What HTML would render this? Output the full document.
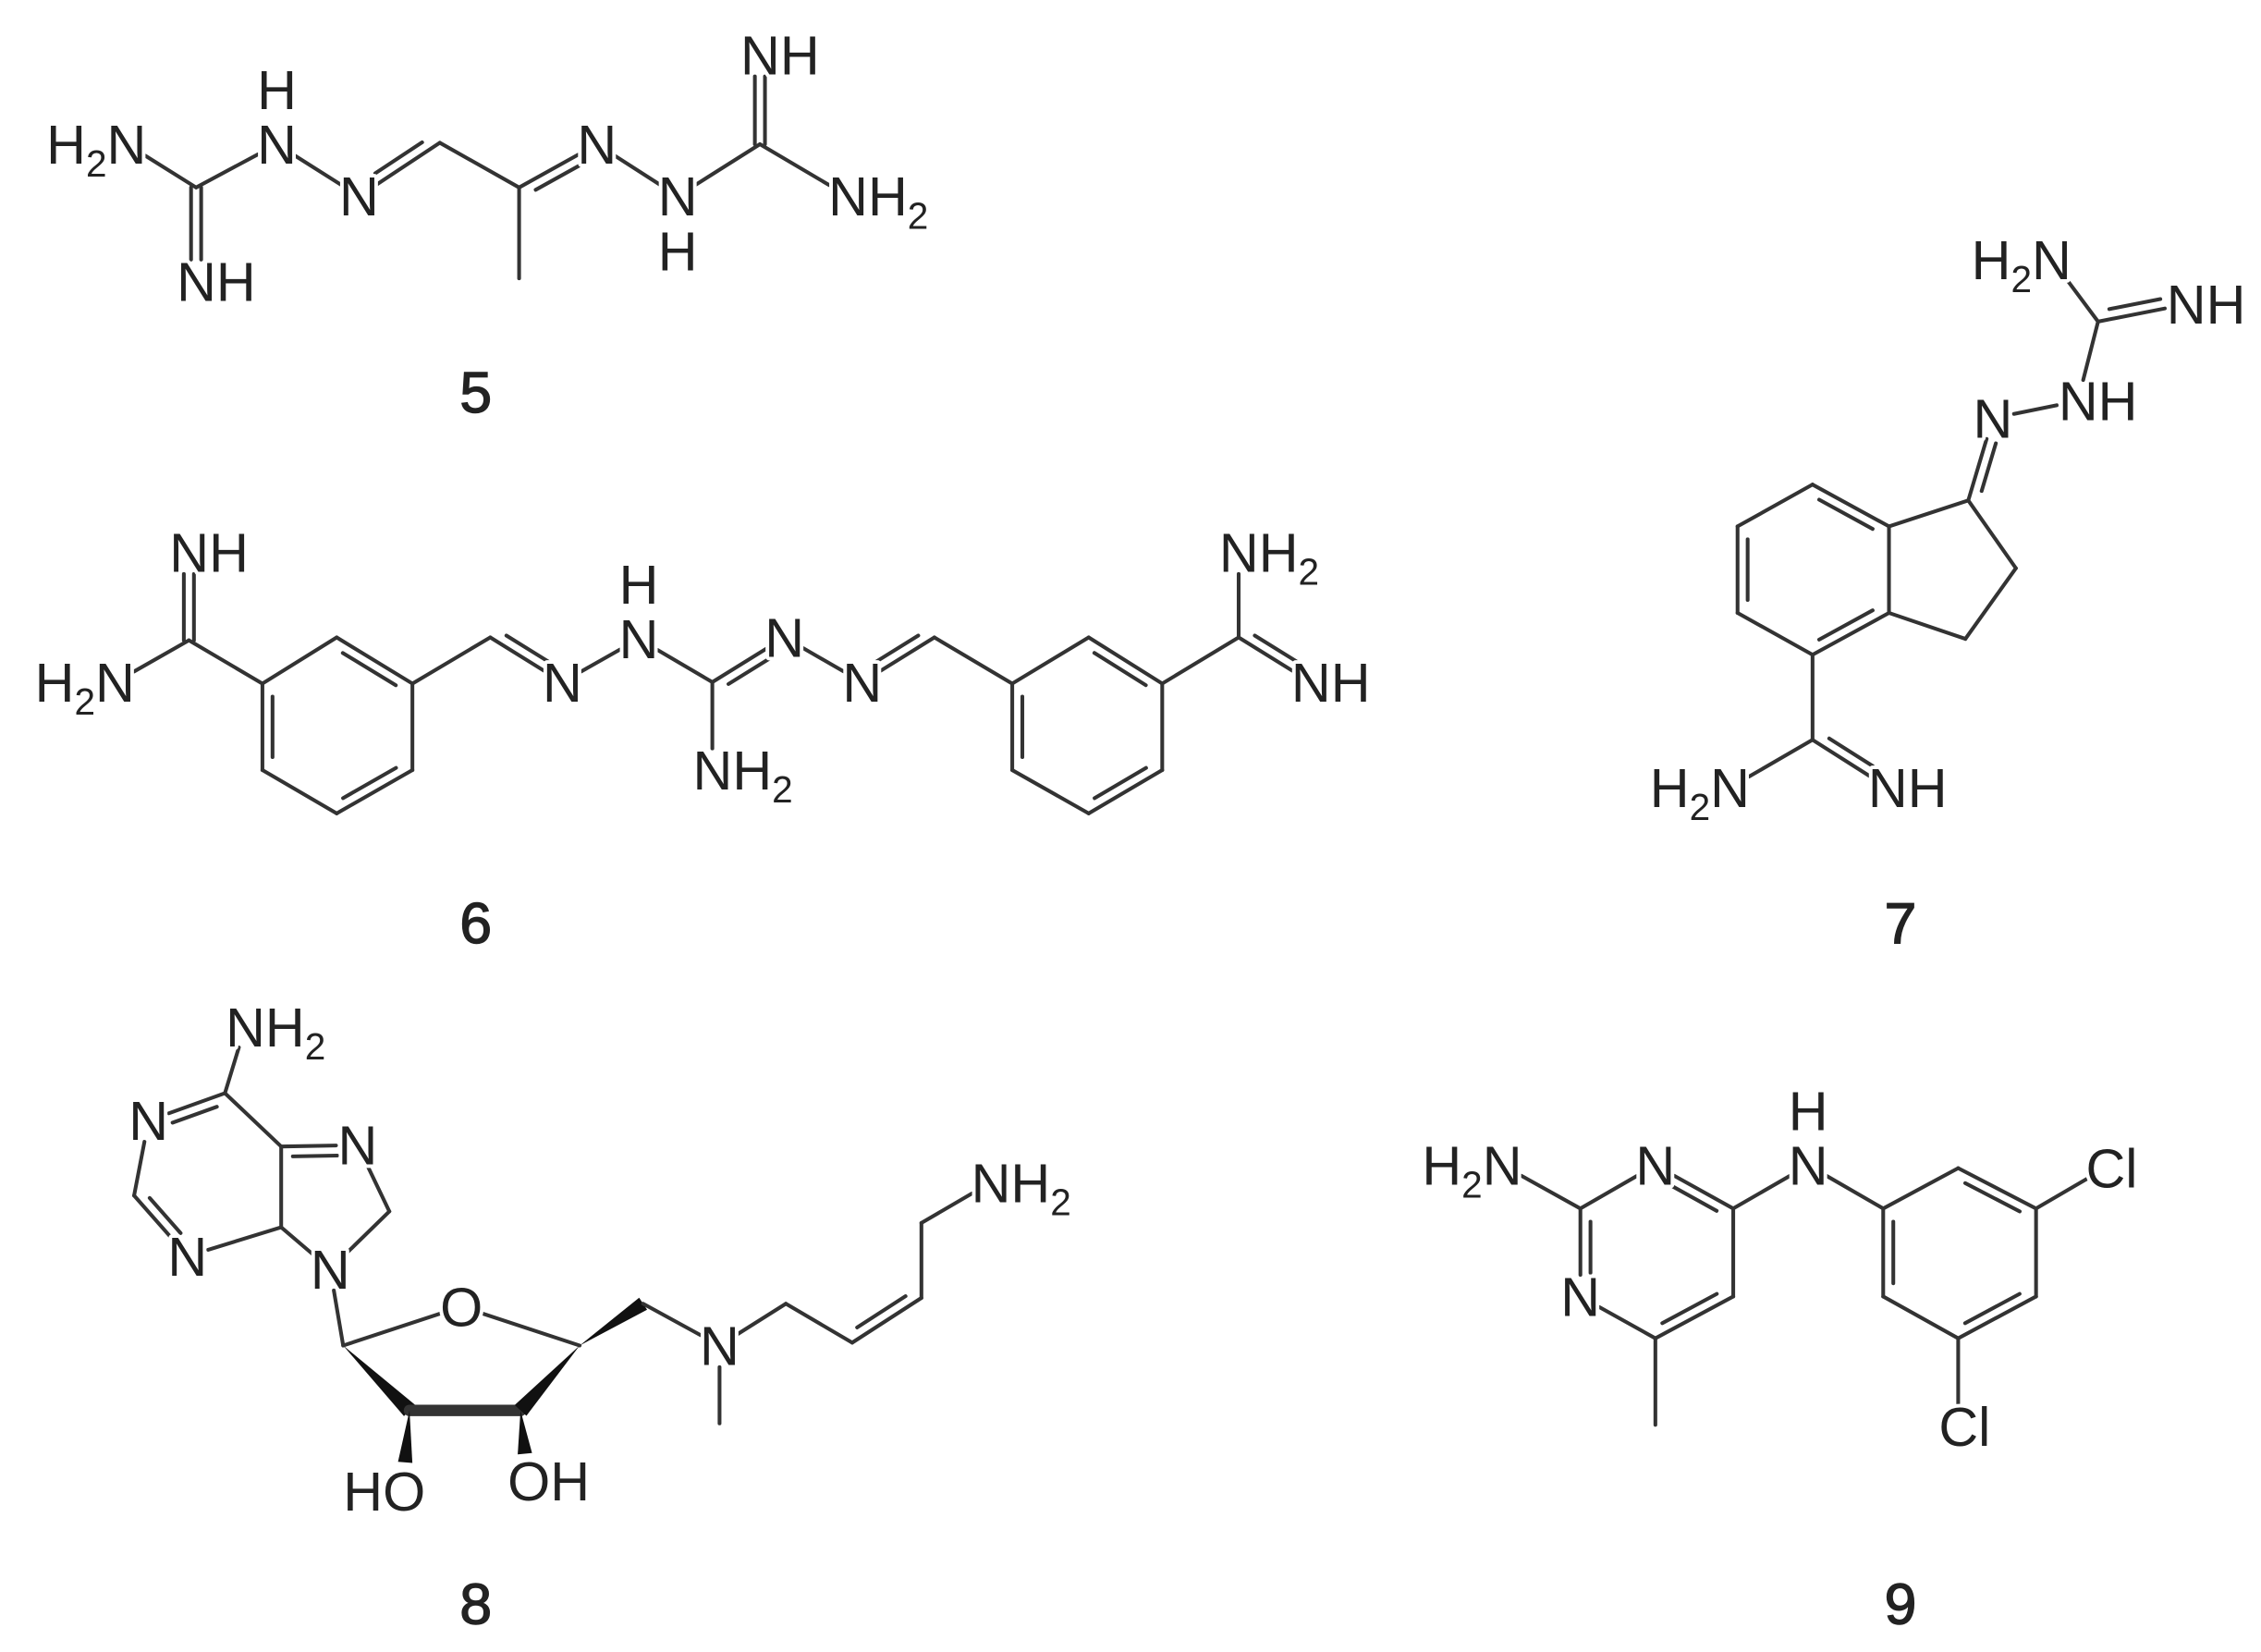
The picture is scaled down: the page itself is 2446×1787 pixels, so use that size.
<!DOCTYPE html>
<html><head><meta charset="utf-8"><style>
html,body{margin:0;padding:0;background:#fff;}
svg{display:block;}
text{font-family:"Liberation Sans",Arial,sans-serif;fill:#222;}
</style></head><body>
<svg id="s" width="2446" height="1787" viewBox="0 0 1568 1145.5" preserveAspectRatio="none" xmlns="http://www.w3.org/2000/svg"></svg>
<script>
var out='',txt='',Q=[],lab=[];
function isLab(p){for(var i=0;i<lab.length;i++){if(Math.abs(lab[i][0]-p[0])<0.5&&Math.abs(lab[i][1]-p[1])<0.5)return true;}return false;}
function trim(a,b){var dx=b[0]-a[0],dy=b[1]-a[1],l=Math.hypot(dx,dy),ux=dx/l,uy=dy/l,t=15;
 var A=a.slice(),B=b.slice();if(isLab(a)){A=[a[0]+ux*t,a[1]+uy*t];}if(isLab(b)){B=[b[0]-ux*t,b[1]-uy*t];}return [A,B];}
function line(x1,y1,x2,y2,w){out+='<line x1="'+x1+'" y1="'+y1+'" x2="'+x2+'" y2="'+y2+'" stroke="#333" stroke-width="'+(w||2.6)+'" stroke-linecap="round"/>';}
function _L(a,b){var t=trim(a,b);line(t[0][0],t[0][1],t[1][0],t[1][1]);}
function _D(a,b,c){var t=trim(a,b),la=isLab(a),lb=isLab(b);line(t[0][0],t[0][1],t[1][0],t[1][1]);
 var dx=b[0]-a[0],dy=b[1]-a[1],l=Math.hypot(dx,dy),nx=-dy/l,ny=dx/l;
 var mx=(a[0]+b[0])/2,my=(a[1]+b[1])/2; if((c[0]-mx)*nx+(c[1]-my)*ny<0){nx=-nx;ny=-ny;}
 var o=7,sa=la?0.27:0.15,sb=lb?0.27:0.15;line(a[0]+nx*o+dx*sa,a[1]+ny*o+dy*sa,b[0]+nx*o-dx*sb,b[1]+ny*o-dy*sb);}
function _Dc(a,b){var t=trim(a,b);a=t[0];b=t[1];var dx=b[0]-a[0],dy=b[1]-a[1],l=Math.hypot(dx,dy),nx=-dy/l*3.5,ny=dx/l*3.5;
 line(a[0]+nx,a[1]+ny,b[0]+nx,b[1]+ny);line(a[0]-nx,a[1]-ny,b[0]-nx,b[1]-ny);}
function L(a,b){Q.push(function(){_L(a,b);});}
function D(a,b,c){Q.push(function(){_D(a,b,c);});}
function Dc(a,b){Q.push(function(){_Dc(a,b);});}
function W(a,b,w){var dx=b[0]-a[0],dy=b[1]-a[1],l=Math.hypot(dx,dy),nx=-dy/l*w/2,ny=dx/l*w/2;
 out+='<polygon points="'+a[0]+','+a[1]+' '+(b[0]+nx)+','+(b[1]+ny)+' '+(b[0]-nx)+','+(b[1]-ny)+'" fill="#111"/>';}
var sub='<tspan font-size="26" dy="9">2</tspan>';
function T(x,y,s,anc){txt+='<text x="'+x+'" y="'+(y+13.5)+'" font-size="38" text-anchor="'+anc+'" stroke="#fff" stroke-width="5" paint-order="stroke" stroke-linejoin="round">'+s+'</text>';}
function H2N(p){lab.push(p);T(p[0]+13.5,p[1],'H'+sub+'<tspan dy="-9">N</tspan>','end');}
function NH(p){lab.push(p);T(p[0]-13.5,p[1],'NH','start');}
function NH2(p){lab.push(p);T(p[0]-13.5,p[1],'NH'+sub,'start');}
function A(p,s){lab.push(p);T(p[0],p[1],s,'middle');}
function ring(P,c,dbl){for(var i=0;i<P.length;i++){var a=P[i],b=P[(i+1)%P.length];if(dbl.indexOf(i)>=0)D(a,b,c);else L(a,b);}}

// ---- compound 5
var a={n1:[88,100],c1:[136,130],nb:[136,195],nh:[192,100],n2:[249,136],ch:[305,99],c2:[360,130],me:[360,193],n3:[414,100],nh2:[470,136],c3:[527,100],nt:[527,38],nr:[588,136]};
L(a.n1,a.c1);Dc(a.c1,a.nb);L(a.c1,a.nh);L(a.nh,a.n2);D(a.n2,a.ch,[290,60]);L(a.ch,a.c2);D(a.c2,a.n3,[400,150]);L(a.c2,a.me);L(a.n3,a.nh2);L(a.nh2,a.c3);Dc(a.c3,a.nt);L(a.c3,a.nr);
H2N(a.n1);NH(a.nb);A(a.nh,'N');A([192,62],'H');A(a.n2,'N');A(a.n3,'N');A(a.nh2,'N');A([470,174],'H');NH(a.nt);NH2(a.nr);

// ---- compound 6
var b={n1:[80,473],c:[131,444],nt:[131,383],ch:[340,442],na:[390,473],nh:[443,443],cc:[494,473],nb:[494,534],nc:[544,442],nd:[598,473],ch2:[648,442],c2:[859,442],n2t:[859,383],n2r:[909,473]};
var R1=[[233.5,442],[286,474],[286,534],[233.5,564],[182,534],[182,474]];
var R2=[[755,442],[806,474],[806,534],[755,564],[702,534],[702,474]];
ring(R1,[234,503],[0,2,4]);ring(R2,[755,503],[0,2,4]);
L(b.n1,b.c);Dc(b.c,b.nt);L(b.c,R1[5]);L(R1[1],b.ch);D(b.ch,b.na,[400,420]);L(b.na,b.nh);L(b.nh,b.cc);D(b.cc,b.nc,[540,500]);L(b.cc,b.nb);L(b.nc,b.nd);D(b.nd,b.ch2,[660,410]);L(b.ch2,R2[5]);L(R2[1],b.c2);L(b.c2,b.n2t);D(b.c2,b.n2r,[920,420]);
H2N(b.n1);NH(b.nt);A(b.na,'N');A(b.nh,'N');A([443,405],'H');NH2(b.nb);A(b.nc,'N');A(b.nd,'N');NH2(b.n2t);NH(b.n2r);

// ---- compound 7
var c={n1:[1423,180],c:[1455,223],nr:[1516,211],nh:[1441,278],n:[1382,290],c1:[1365,347],ca:[1398,394],cb:[1363,443],am:[1257,513],nl:[1200,546],nr2:[1309,546]};
var R7=[[1310,365],[1257,336],[1205,365],[1205,425],[1257,454],[1310,425]];
ring(R7,[1257,395],[0,2,4]);
L(R7[0],c.c1);L(c.c1,c.ca);L(c.ca,c.cb);L(c.cb,R7[5]);D(c.c1,c.n,[1400,340]);L(c.n,c.nh);L(c.nh,c.c);L(c.c,c.n1);D(c.c,c.nr,[1480,180]);L(R7[4],c.am);L(c.am,c.nl);D(c.am,c.nr2,[1300,500]);
H2N(c.n1);NH(c.nr);NH(c.nh);A(c.n,'N');H2N(c.nl);NH(c.nr2);

// ---- compound 8
var d={nh2:[170,712],c6:[156,758],n1:[103,777],c2:[93,829],n3:[130,871],c4:[195,851],c5:[195,795],n7:[248,794],c8:[270,840],n9:[229,880],c1:[238,933],o:[320,906],c4p:[402,933],c3:[361,978],c2p:[284,978],oh:[367,1027],ho:[280,1034],ch2:[446,904],n:[499,933],me:[499,987],cha:[545,904],chb:[591,931],chc:[639,900],chd:[639,848],nt:[687,820]};
L(d.c6,d.nh2);D(d.c6,d.n1,[150,815]);L(d.n1,d.c2);D(d.c2,d.n3,[150,815]);L(d.n3,d.c4);L(d.c4,d.c5);L(d.c5,d.c6);
D(d.c5,d.n7,[232,840]);L(d.n7,d.c8);L(d.c8,d.n9);L(d.n9,d.c4);
L(d.n9,d.c1);L(d.c1,d.o);L(d.o,d.c4p);W(d.c1,d.c2p,11);line(d.c2p[0],d.c2p[1],d.c3[0],d.c3[1],8);W(d.c4p,d.c3,11);
W(d.c2p,[281,1014],10);W(d.c3,[364,1008],10);W(d.c4p,d.ch2,10);
L(d.ch2,d.n);L(d.n,d.me);L(d.n,d.cha);L(d.cha,d.chb);D(d.chb,d.chc,[600,880]);L(d.chc,d.chd);L(d.chd,d.nt);
NH2(d.nh2);A(d.n1,'N');A(d.n3,'N');A(d.n7,'N');A(d.n9,'N');A(d.o,'O');A(d.n,'N');NH2(d.nt);
T(d.ho[0]+15,d.ho[1],'HO','end');T(d.oh[0]-15,d.oh[1],'OH','start');

// ---- compound 9
var e={n2:[1042,808],c2:[1096,838],n3:[1148,808],c4:[1202,838],c5:[1202,899],c6:[1148,928],n1:[1096,899],me:[1148,988],nh:[1254,808],clt:[1460,810],clb:[1358,989]};
ring([e.c2,e.n3,e.c4,e.c5,e.c6,e.n1],[1149,868],[1,3,5]);
var RB=[[1306,838],[1358,810],[1412,838],[1412,899],[1358,928],[1306,899]];
ring(RB,[1359,868],[1,3,5]);
L(e.n2,e.c2);L(e.c6,e.me);L(e.c4,e.nh);L(e.nh,RB[0]);L(RB[2],e.clt);L(RB[4],e.clb);
H2N(e.n2);A(e.n3,'N');A(e.n1,'N');A(e.nh,'N');A([1254,770],'H');
lab.push(e.clt);lab.push(e.clb);
T(e.clt[0]-13.5,e.clt[1],'Cl','start');T(e.clb[0]-13.5,e.clb[1],'Cl','start');

Q.forEach(function(f){f();});
// ---- labels
[['5',330,272],['6',330,640],['7',1318,640],['8',330,1112],['9',1318,1112]].forEach(function(l){
 txt+='<text x="'+l[1]+'" y="'+(l[2]+14)+'" font-size="40" text-anchor="middle" stroke="#222" stroke-width="0.9">'+l[0]+'</text>';});
document.getElementById('s').innerHTML=out+txt;
</script>
</body></html>
